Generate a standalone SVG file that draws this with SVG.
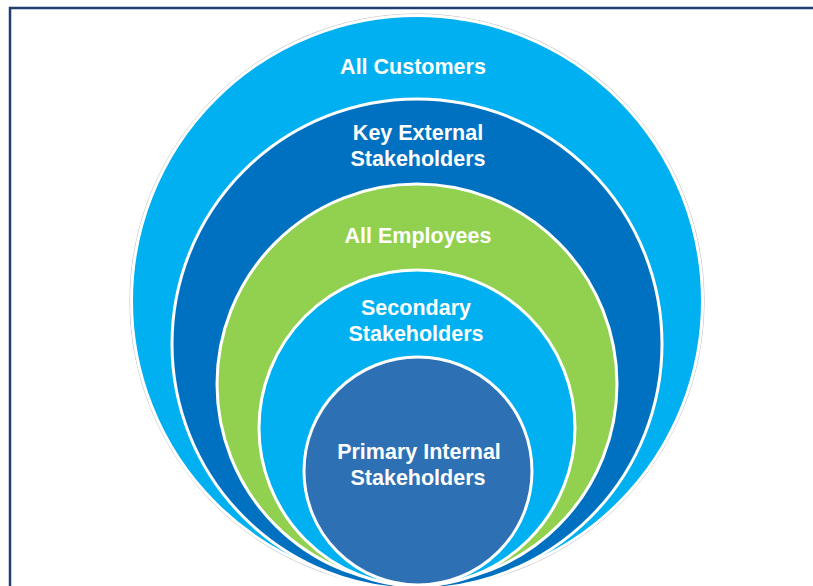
<svg xmlns="http://www.w3.org/2000/svg" width="813" height="586" viewBox="0 0 813 586">
<style>
.ring{stroke:#ffffff;stroke-width:3}
.lbl{font-family:"Liberation Sans",Arial,sans-serif;font-weight:bold;font-size:21.5px;fill:#ffffff;text-anchor:middle}
</style>
<rect x="0" y="0" width="813" height="586" fill="#ffffff"/>
<rect id="frame" x="10" y="8" width="830" height="620" fill="#ffffff" stroke="#203f70" stroke-width="2.5"/>
<g id="all-customers">
<circle cx="417" cy="301" r="287" fill="none" stroke="#b8b8b8" stroke-width="1"/>
<circle class="ring" cx="417" cy="301" r="285.5" fill="#00b0f0"/>
<text class="lbl" x="413" y="74">All Customers</text>
</g>
<g id="key-external">
<circle class="ring" cx="417" cy="344" r="245" fill="#0070c0"/>
<text class="lbl" x="418" y="140">Key External</text>
<text class="lbl" x="418" y="166">Stakeholders</text>
</g>
<g id="all-employees">
<circle class="ring" cx="417" cy="384" r="200" fill="#92d050"/>
<text class="lbl" x="418" y="243">All Employees</text>
</g>
<g id="secondary">
<circle class="ring" cx="417" cy="428" r="158" fill="#00b0f0"/>
<text class="lbl" x="416" y="315">Secondary</text>
<text class="lbl" x="416" y="341">Stakeholders</text>
</g>
<g id="primary-internal">
<circle class="ring" cx="418" cy="471" r="114" fill="#2e70b4"/>
<text class="lbl" x="419" y="459">Primary Internal</text>
<text class="lbl" x="418" y="485">Stakeholders</text>
</g>
<g id="connectors"></g>
</svg>
